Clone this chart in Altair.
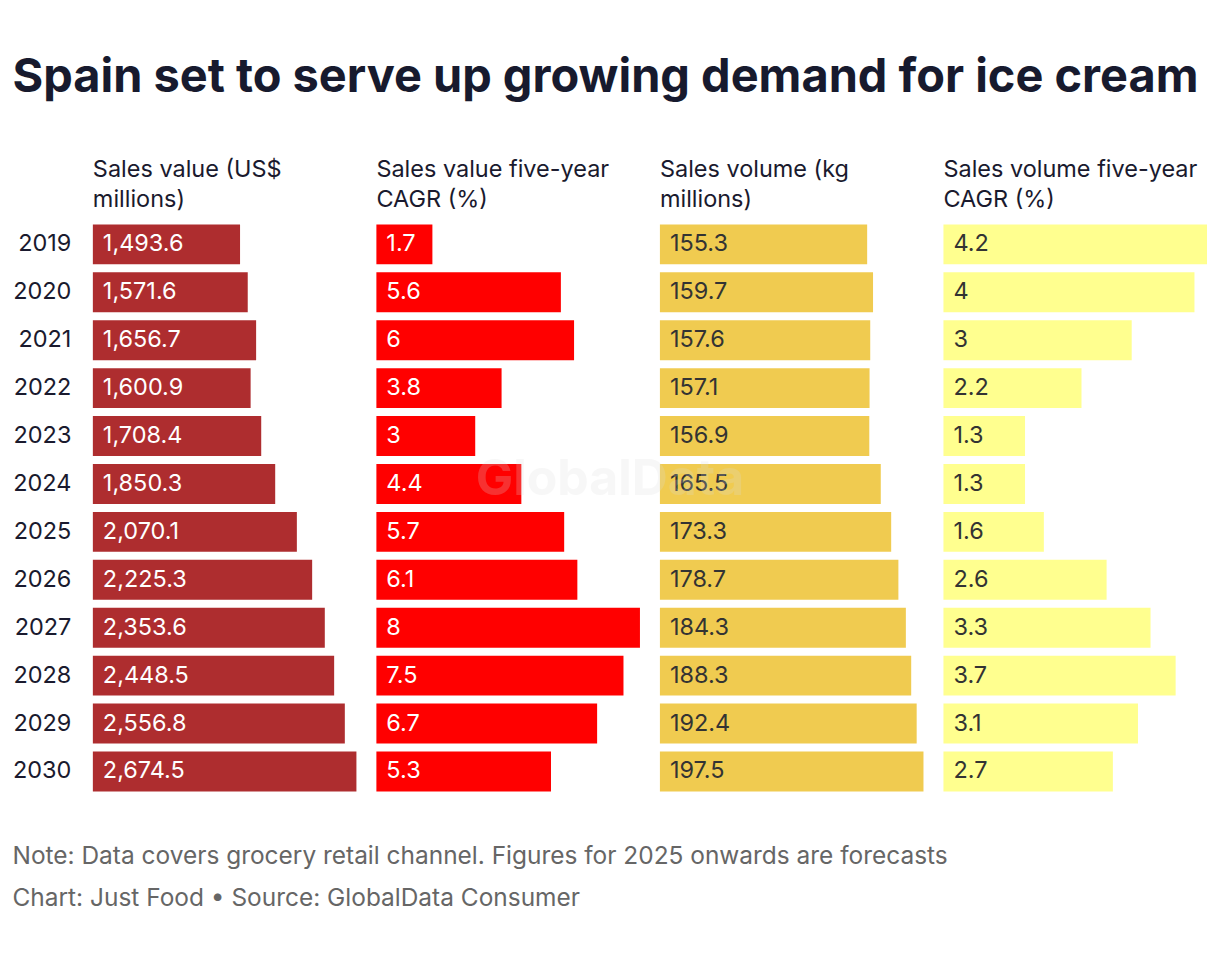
import altair as alt
import pandas as pd

years = ["2019", "2020", "2021", "2022", "2023", "2024", "2025", "2026", "2027", "2028", "2029", "2030"]
sales_value = [1493.6, 1571.6, 1656.7, 1600.9, 1708.4, 1850.3, 2070.1, 2225.3, 2353.6, 2448.5, 2556.8, 2674.5]
value_cagr = [1.7, 5.6, 6, 3.8, 3, 4.4, 5.7, 6.1, 8, 7.5, 6.7, 5.3]
sales_volume = [155.3, 159.7, 157.6, 157.1, 156.9, 165.5, 173.3, 178.7, 184.3, 188.3, 192.4, 197.5]
volume_cagr = [4.2, 4, 3, 2.2, 1.3, 1.3, 1.6, 2.6, 3.3, 3.7, 3.1, 2.7]

headers = [
    ["Sales value (US$", "millions)"],
    ["Sales value five-year", "CAGR (%)"],
    ["Sales volume (kg", "millions)"],
    ["Sales volume five-year", "CAGR (%)"],
]
bar_colors = ["#ae2d2f", "#ff0000", "#f0cb50", "#ffff8f"]
text_colors = ["#ffffff", "#ffffff", "#333333", "#333333"]
formats = [",.1f", "~g", ",.1f", "~g"]
series = [sales_value, value_cagr, sales_volume, volume_cagr]

title_text = "Spain set to serve up growing demand for ice cream"
notes = [
    "Note: Data covers grocery retail channel. Figures for 2025 onwards are forecasts",
    "Chart: Just Food \u2022 Source: GlobalData Consumer",
]
watermark = "GlobalData"

FONT = "Inter"
FS = 23.5
W, H = 264, 576

panels = []
for i, vals in enumerate(series):
    df = pd.DataFrame({"year": years, "v": vals})
    yaxis = None
    if i == 0:
        yaxis = alt.Axis(title=None, domain=False, ticks=False, labelFontSize=FS,
                         labelColor="#1a1a2e", labelPadding=22, labelFont=FONT)
    y = alt.Y("year:N", sort=years, axis=yaxis,
              scale=alt.Scale(paddingInner=1/6, paddingOuter=1/12))
    base = alt.Chart(df)
    bars = base.mark_bar(color=bar_colors[i]).encode(
        x=alt.X("v:Q", axis=None, scale=alt.Scale(domain=[0, max(vals)], nice=False)),
        y=y,
    )
    labels = base.mark_text(align="left", baseline="middle", fontSize=FS, font=FONT,
                            color=text_colors[i]).encode(
        x=alt.value(10),
        y=y,
        text=alt.Text("v:Q", format=formats[i]),
    )
    layers = [bars, labels]
    if i == 2:
        wm = alt.Chart(pd.DataFrame({"t": [watermark]})).mark_text(
            align="center", baseline="middle", fontSize=50, fontWeight="bold", font=FONT,
            color="#dddddd", opacity=0.22).encode(
            text="t:N", x=alt.value(-50), y=alt.value(260))
        layers.append(wm)
    panel = alt.layer(*layers).properties(
        width=W, height=H,
        title=alt.TitleParams(headers[i], anchor="start", fontSize=FS, fontWeight="normal",
                              color="#1a1a2e", font=FONT, lineHeight=30, offset=9,
                              frame="group"),
    )
    panels.append(panel)

row = alt.hconcat(*panels, spacing=20, bounds="flush").properties(
    title=alt.TitleParams(notes, orient="bottom", anchor="start", fontSize=24.5,
                          fontWeight="normal", color="#666666", font=FONT,
                          lineHeight=42, offset=50, frame="bounds"),
)

chart = alt.vconcat(row).properties(
    title=alt.TitleParams(title_text, anchor="start", fontSize=47, fontWeight="bold",
                          color="#171a2e", font=FONT, offset=56, frame="bounds"),
    padding={"left": 4, "top": 45, "right": 5, "bottom": 5},
).configure_view(stroke=None)

chart.save("out.html", embed_options={"renderer": "svg", "actions": False})
